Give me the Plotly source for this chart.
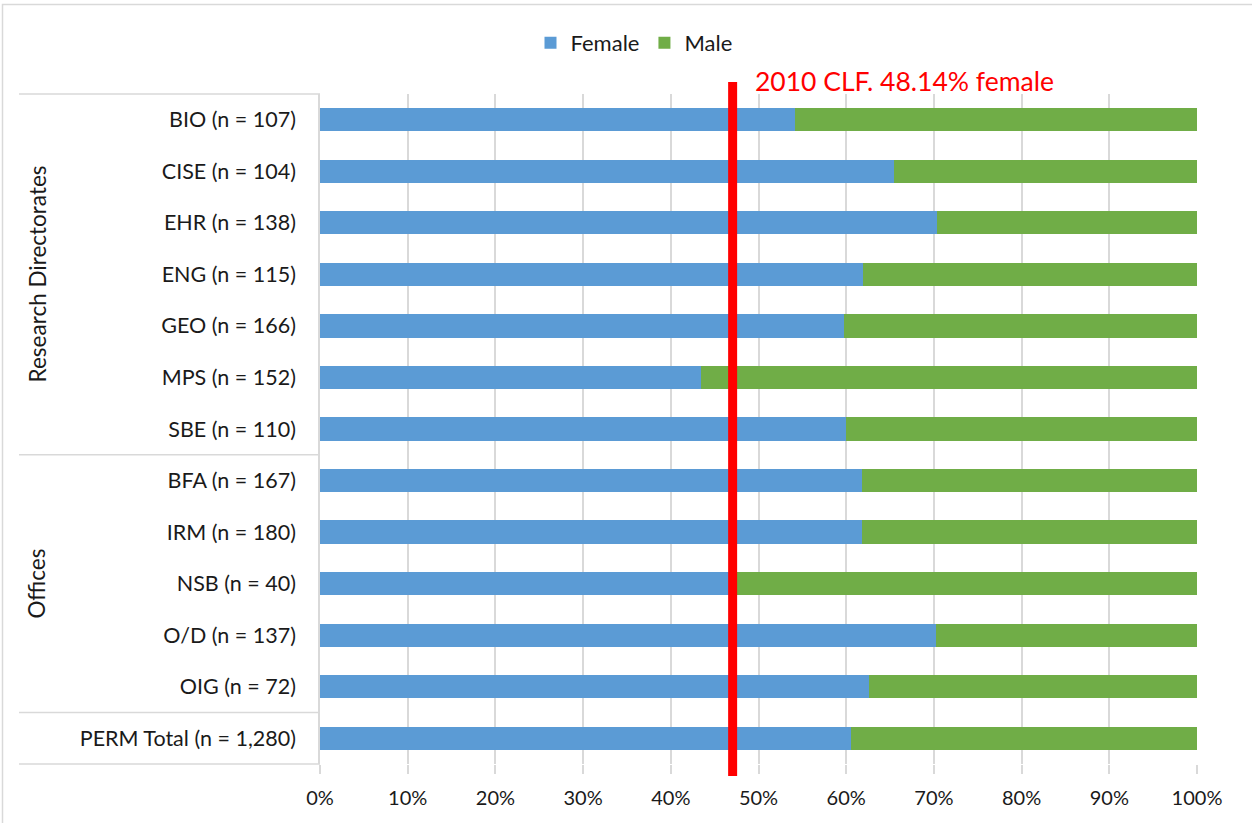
import plotly.graph_objects as go

categories = ["BIO (n = 107)", "CISE (n = 104)", "EHR (n = 138)", "ENG (n = 115)",
              "GEO (n = 166)", "MPS (n = 152)", "SBE (n = 110)", "BFA (n = 167)",
              "IRM (n = 180)", "NSB (n = 40)", "O/D (n = 137)", "OIG (n = 72)",
              "PERM Total (n = 1,280)"]
female_pct = [54.2, 65.5, 70.4, 61.9, 59.7, 43.4, 60.0, 61.8, 61.8, 47.6, 70.2, 62.6, 60.5]
male_pct = [round(100 - f, 1) for f in female_pct]
groups = [("Research Directorates", 0, 6), ("Offices", 7, 11), ("", 12, 12)]
clf_line = 47.05  # drawn position of the 2010 CLF reference line
clf_label = "2010 CLF. 48.14% female"
x_ticks = list(range(0, 101, 10))
x_tick_labels = [f"{v}%" for v in x_ticks]

FONT = "Lato, Calibri, 'Open Sans', sans-serif"
W, H = 1252, 823
L, T = 320, 94
R = W - 1197
B = H - 764
pw, ph = W - L - R, H - T - B
n = len(categories)

def px_x(p):
    return (p - L) / pw

def px_y(p):
    return (H - B - p) / ph

fig = go.Figure()
fig.add_trace(go.Bar(y=categories, x=female_pct, name="Female", orientation="h",
                     marker=dict(color="#5b9bd5", line=dict(width=0))))
fig.add_trace(go.Bar(y=categories, x=male_pct, name="Male", orientation="h",
                     marker=dict(color="#70ad47", line=dict(width=0))))

shapes = []
# outer chart border
shapes.append(dict(type="rect", xref="paper", yref="paper",
                   x0=px_x(2.5), x1=px_x(1260), y0=px_y(840), y1=px_y(4.5),
                   line=dict(color="#d9d9d9", width=1.5), layer="below"))
# group separators in the category label area
bounds = sorted({-0.5} | {g[2] + 0.5 for g in groups})
for b in bounds:
    yp = 1 - (b + 0.5) / n
    shapes.append(dict(type="line", xref="paper", yref="paper",
                       x0=px_x(19), x1=0, y0=yp, y1=yp,
                       line=dict(color="#d9d9d9", width=1.5)))
# CLF line
shapes.append(dict(type="line", xref="x", yref="paper",
                   x0=clf_line, x1=clf_line, y0=px_y(776), y1=px_y(82),
                   line=dict(color="#ff0000", width=9), layer="above"))

annotations = []
for name, a, b in groups:
    if not name:
        continue
    yc = 1 - ((a + b) / 2 + 0.5) / n
    annotations.append(dict(text=name, xref="paper", yref="paper", x=px_x(37), y=yc,
                            textangle=-90, showarrow=False, xanchor="center", yanchor="middle",
                            font=dict(family=FONT, size=22.5, color="#1a1a1a")))
annotations.append(dict(text=clf_label, xref="paper", yref="paper", x=px_x(753), y=px_y(81),
                        showarrow=False, xanchor="left", yanchor="middle",
                        font=dict(family=FONT, size=26.5, color="#ff0000")))

fig.update_layout(
    width=W, height=H, barmode="stack", bargap=0.55,
    margin=dict(l=L, r=R, t=T, b=B, autoexpand=False),
    paper_bgcolor="white", plot_bgcolor="white",
    font=dict(family=FONT, size=21, color="#1a1a1a"),
    legend=dict(orientation="h", x=px_x(634), xanchor="center", y=px_y(43), yanchor="middle",
                font=dict(family=FONT, size=22, color="#1a1a1a"), traceorder="normal",
                itemwidth=30),
    shapes=shapes, annotations=annotations,
    xaxis=dict(range=[0, 100], tickvals=x_ticks, ticktext=x_tick_labels,
               showgrid=True, gridcolor="#d9d9d9", gridwidth=1.5, zeroline=False,
               ticks="outside", ticklen=9, tickcolor="#d9d9d9", tickwidth=1.5,
               ticklabelstandoff=7,
               tickfont=dict(family=FONT, size=20, color="#1a1a1a"), showline=False),
    yaxis=dict(categoryorder="array", categoryarray=categories, autorange="reversed",
               showline=True, linecolor="#d9d9d9", linewidth=1.5, ticks="",
               ticklabelstandoff=18,
               tickfont=dict(family=FONT, size=21.5, color="#1a1a1a"), showgrid=False),
)

fig.write_html("out.html", config={"displayModeBar": False},
               post_script="document.body.style.margin='0';")
